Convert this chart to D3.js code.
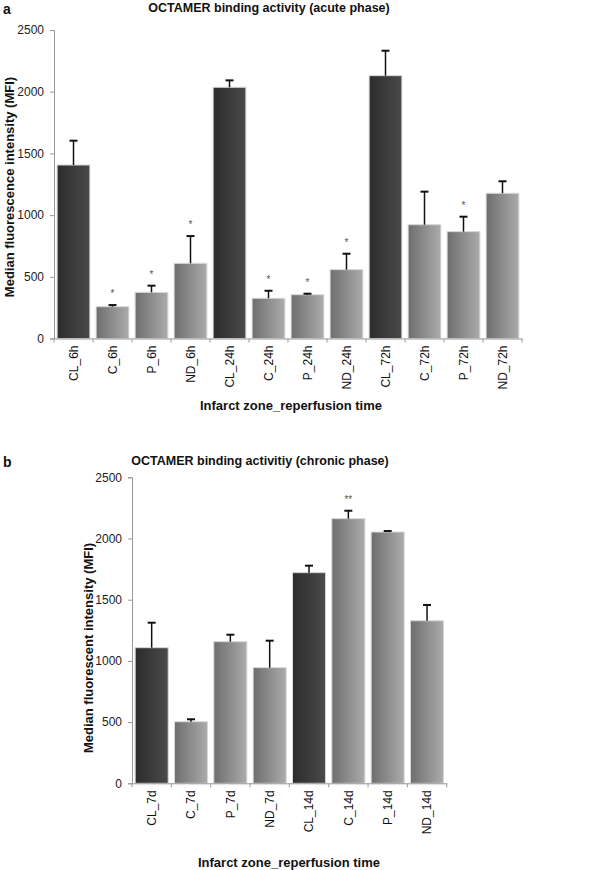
<!DOCTYPE html>
<html><head><meta charset="utf-8">
<script src="https://cdn.jsdelivr.net/npm/d3@7"></script>
<style>body{margin:0;background:#fff}svg{display:block}text{font-family:"Liberation Sans",Arial,sans-serif}</style>
</head><body>
<svg id="c" width="610" height="870"></svg>
<script>
const catsA = ["CL_6h","C_6h","P_6h","ND_6h","CL_24h","C_24h","P_24h","ND_24h","CL_72h","C_72h","P_72h","ND_72h"];
const valsA = [1406,258,374,609,2036,326,355,558,2130,922,866,1177];
const errA  = [1603,271,428,830,2092,387,363,687,2332,1190,987,1274];
const starsA = ["","*","*","*","","*","*","*","","","*",""];
const catsB = ["CL_7d","C_7d","P_7d","ND_7d","CL_14d","C_14d","P_14d","ND_14d"];
const valsB = [1108,503,1157,945,1721,2162,2053,1328];
const errB  = [1312,523,1214,1165,1778,2227,2061,1457];
const starsB = ["","","","","","**","",""];
const yTicks = [0,500,1000,1500,2000,2500];

const svg = d3.select("#c");
const defs = svg.append("defs");
const gDark = defs.append("linearGradient").attr("id","gDark");
gDark.append("stop").attr("offset","0%").attr("stop-color","#2c2c2c");
gDark.append("stop").attr("offset","100%").attr("stop-color","#4a4a4a");
const gLight = defs.append("linearGradient").attr("id","gLight");
gLight.append("stop").attr("offset","0%").attr("stop-color","#6e6e6e");
gLight.append("stop").attr("offset","100%").attr("stop-color","#ababab");

function panel(o){
  const g = svg.append("g");
  const x = d3.scaleBand().domain(o.cats).range([o.x0, o.x1]).paddingInner(0.16).paddingOuter(0.08);
  const y = d3.scaleLinear().domain([0,2500]).range([o.y0, o.y1]);
  const ya = g.append("g").attr("transform",`translate(${o.x0},0)`)
    .call(d3.axisLeft(y).tickValues(yTicks).tickFormat(d3.format("d")).tickSize(4).tickPadding(6));
  ya.select(".domain").attr("stroke","#999");
  ya.selectAll(".tick line").attr("stroke","#999");
  ya.selectAll(".tick text").attr("font-size",12).attr("fill","#222").attr("font-family","Liberation Sans, Arial");
  const bw = x.bandwidth();
  g.selectAll("rect.bar").data(o.cats).join("rect").attr("class","bar")
    .attr("x",d=>x(d)).attr("width",bw)
    .attr("y",(d,i)=>y(o.vals[i])).attr("height",(d,i)=>y(0)-y(o.vals[i]))
    .attr("fill",d=>d.startsWith("CL")?"url(#gDark)":"url(#gLight)")
    .attr("stroke","#d8d8d8").attr("stroke-width",1);
  g.selectAll("line.err").data(o.cats).join("line").attr("class","err")
    .attr("x1",d=>x(d)+bw/2).attr("x2",d=>x(d)+bw/2)
    .attr("y1",(d,i)=>y(o.vals[i])).attr("y2",(d,i)=>y(o.errs[i]))
    .attr("stroke","#111").attr("stroke-width",1.5);
  g.selectAll("line.cap").data(o.cats).join("line").attr("class","cap")
    .attr("x1",d=>x(d)+bw/2-4).attr("x2",d=>x(d)+bw/2+4)
    .attr("y1",(d,i)=>y(o.errs[i])).attr("y2",(d,i)=>y(o.errs[i]))
    .attr("stroke","#111").attr("stroke-width",2);
  g.selectAll("text.star").data(o.cats).join("text").attr("class","star")
    .attr("x",d=>x(d)+bw/2).attr("y",(d,i)=>y(o.errs[i])-8)
    .attr("text-anchor","middle").attr("font-size",10).attr("fill","#555")
    .text((d,i)=>o.stars[i]);
  const xa = g.append("g").attr("transform",`translate(0,${o.y0})`)
    .call(d3.axisBottom(x).tickSize(0).tickPadding(0));
  xa.select(".domain").attr("stroke","#999");
  xa.selectAll(".tick text").attr("font-size",12).attr("fill","#111")
    .attr("transform","rotate(-90)").attr("text-anchor","end")
    .attr("x",-7).attr("y",0).attr("dy","0.35em");
  const bounds = d3.range(o.cats.length+1).map(i=>o.x0 + i*(o.x1-o.x0)/o.cats.length);
  g.selectAll("line.bt").data(bounds).join("line").attr("class","bt")
    .attr("x1",d=>d).attr("x2",d=>d).attr("y1",o.y0).attr("y2",o.y0+4).attr("stroke","#999");
  g.append("text").attr("x",o.tx).attr("y",o.ty).attr("text-anchor","middle")
    .attr("font-size",12.5).attr("font-weight","bold").attr("fill","#111").text(o.title);
  g.append("text").attr("x",3).attr("y",o.ty+2).attr("font-size",14).attr("font-weight","bold").attr("fill","#111").text(o.letter);
  g.append("text").attr("transform",`translate(${o.ylx},${o.yly}) rotate(-90)`).attr("text-anchor","middle")
    .attr("font-size",13).attr("font-weight","bold").attr("fill","#111").text(o.ylabel);
  g.append("text").attr("x",o.xlx).attr("y",o.xly).attr("text-anchor","middle")
    .attr("font-size",13).attr("font-weight","bold").attr("fill","#111").text("Infarct zone_reperfusion time");
}

panel({cats:catsA, vals:valsA, errs:errA, stars:starsA, x0:54, x1:522, y0:338.5, y1:30,
  title:"OCTAMER binding activity (acute phase)", letter:"a", tx:269, ty:12,
  ylabel:"Median fluorescence intensity (MFI)", ylx:14, yly:187, xlx:291, xly:410});
panel({cats:catsB, vals:valsB, errs:errB, stars:starsB, x0:132, x1:446.7, y0:783.3, y1:477.3,
  title:"OCTAMER binding activitiy (chronic phase)", letter:"b", tx:260, ty:465,
  ylabel:"Median fluorescent intensity (MFI)", ylx:93, yly:648, xlx:289, xly:867});
</script>
</body></html>
